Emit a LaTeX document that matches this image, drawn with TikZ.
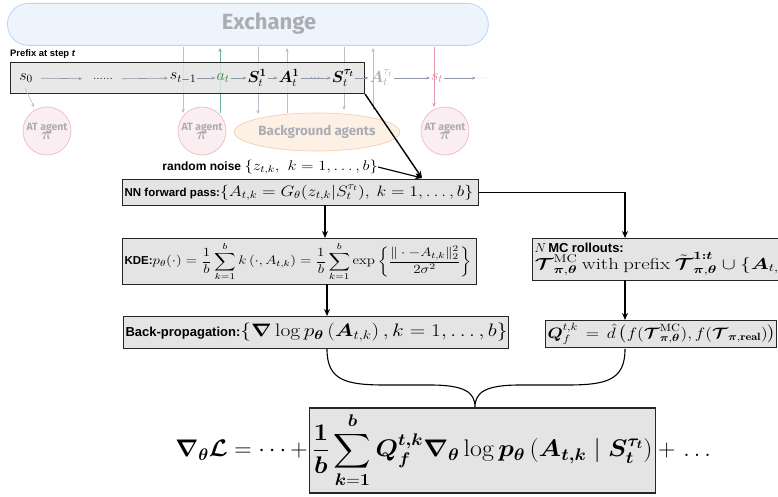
\RequirePackage{fix-cm}
\documentclass[tikz,border=0pt]{standalone}
\usepackage{amsmath,amssymb,bm,graphicx}
\usepackage{fontspec}
\setsansfont{Liberation Sans}
\newfontfamily\dinfont{Fira Sans}
\usetikzlibrary{arrows.meta,calc,shapes.geometric}
\definecolor{exfill}{HTML}{EDF4FC}
\definecolor{exline}{HTML}{BCD6F0}
\definecolor{extext}{HTML}{ABADB3}
\definecolor{vline}{HTML}{B9C0CA}
\definecolor{harrow}{HTML}{8E98A6}
\definecolor{agfill}{HTML}{FBEEF1}
\definecolor{agline}{HTML}{F0BAC5}
\definecolor{bgfill}{HTML}{FDF0E5}
\definecolor{bgline}{HTML}{F6CFAE}
\definecolor{greentx}{HTML}{2E8B3A}
\definecolor{greenln}{HTML}{6DB39A}
\definecolor{pinktx}{HTML}{D98796}
\definecolor{pinkln}{HTML}{E49AA7}
\definecolor{boxfill}{HTML}{E4E4E4}
\definecolor{graytx}{HTML}{B2B2B2}
\begin{document}
\begin{tikzpicture}[x=1pt,y=-1pt,
  fbox/.style={draw=black!85, line width=1.1pt, fill=boxfill, inner sep=2pt, anchor=north west, align=left},
  pm/.style={inner sep=1pt, font=\fontsize{16}{18}\selectfont},
  harr/.style={draw=harrow, line width=0.6pt, -{Stealth[length=3.5pt,width=3pt]}},
  vdown/.style={draw=vline, line width=0.8pt, -{Stealth[length=4pt,width=3.5pt]}},
  agent/.style={circle, draw=agline, fill=agfill, line width=0.7pt, minimum size=48pt, inner sep=0pt, align=center, text=extext},
  mainarr/.style={draw=black, line width=1.4pt, -{Stealth[length=7pt,width=6pt]}},
]
\useasboundingbox (0,0) rectangle (778,497);

% Exchange
\node[draw=exline, fill=exfill, rounded corners=21pt, minimum width=481pt, minimum height=42pt, anchor=north west, line width=0.8pt, inner sep=0pt] (ex) at (7,3) {};
\node[font=\dinfont\bfseries\fontsize{22}{24}\selectfont, text=extext] (extx) at (269,24) {Exchange};

% agents
\node[agent] (ag1) at (47,131) {{\dinfont\bfseries\fontsize{10.5}{11}\selectfont AT agent}\\[-3pt]{\fontsize{16}{16}\selectfont$\bm{\pi}$}};
\node[agent] (ag2) at (202,131) {{\dinfont\bfseries\fontsize{10.5}{11}\selectfont AT agent}\\[-3pt]{\fontsize{16}{16}\selectfont$\bm{\pi}$}};
\node[agent] (ag3) at (445,131) {{\dinfont\bfseries\fontsize{10.5}{11}\selectfont AT agent}\\[-3pt]{\fontsize{16}{16}\selectfont$\bm{\pi}$}};
\node[ellipse, draw=bgline, fill=bgfill, line width=0.7pt, minimum width=136pt, minimum height=38pt, inner sep=0pt, text=extext, font=\dinfont\bfseries\fontsize{13.4}{15}\selectfont] (bg) at (317,132) {Background agents};

% vertical exchange lines
\coordinate (v1a) at (183,47); \coordinate (v1b) at (183,113);
\coordinate (v2a) at (220,113); \coordinate (v2b) at (220,48);
\coordinate (v3a) at (258,47); \coordinate (v3b) at (258,114);
\coordinate (v4a) at (287,113); \coordinate (v4b) at (287,48);
\coordinate (v5a) at (344,47); \coordinate (v5b) at (344,110);
\coordinate (v6a) at (373,110); \coordinate (v6b) at (373,48);
\coordinate (v7a) at (434,47); \coordinate (v7b) at (434,107);
\draw[vdown] (v1a) -- (v1b);
\draw[vdown, draw=greenln] (v2a) -- (v2b);
\draw[vdown] (v3a) -- (v3b);
\draw[vdown] (v4a) -- (v4b);
\draw[vdown] (v5a) -- (v5b);
\draw[vdown] (v6a) -- (v6b);
\draw[vdown, draw=pinkln] (v7a) -- (v7b);

% prefix
\node[anchor=west, inner sep=0pt, font=\sffamily\bfseries\fontsize{9.4}{11}\selectfont] (plab) at (10,54) {Prefix at step \textit{t}};
\node[fbox, fill opacity=0.85, minimum width=354pt, minimum height=31pt] (pbox) at (10,62) {};

\node[pm] (s0) at (26,78) {$s_0$};
\node[pm, font=\fontsize{12}{14}\selectfont] (d1) at (103,79) {......};
\node[pm] (stm) at (183,78) {$s_{t-1}$};
\node[pm, text=greentx] (at) at (223,78) {$a_t$};
\node[pm] (S1) at (257,78) {$\bm{S}_t^{\bm{1}}$};
\node[pm] (A1) at (289,78) {$\bm{A}_t^{\bm{1}}$};
\node[pm] (St) at (343,78) {$\bm{S}_t^{\bm{\tau_t}}$};
\node[pm, text=graytx] (At) at (381,78) {$\bm{A}_t^{\tau_t}$};
\node[pm, text=pinktx] (st) at (437,78) {$s_t$};
\node[pm, text=graytx, font=\fontsize{9}{10}\selectfont] (d2) at (483,78) {$\cdots$};

\draw[harr, shorten <=7pt, shorten >=10pt] (s0) -- (d1);
\draw[harr, shorten <=8pt, shorten >=1pt] (d1) -- (stm);
\draw[harr] (stm) -- (at);
\draw[harr] (at) -- (S1);
\draw[harr] (S1) -- (A1);
\draw[harr] (A1) -- node[inner sep=0pt, font=\fontsize{7}{8}\selectfont, text=black]{$\cdots$} (St);
\draw[harr] (St) -- (At);
\draw[harr] (At) -- (st);
\draw[harr] (st) -- (d2);
\coordinate (s0a) at (25,88); \coordinate (s0b) at (34,107);
\draw[harr, draw=vline] (s0a) -- (s0b);

% random noise and NN
\node[fbox, text width=352pt, minimum height=26pt] (nn) at (122,179) {{\sffamily\bfseries\fontsize{11.5}{13}\selectfont NN forward pass:}\scalebox{1.18}[1]{\fontsize{15}{17}\selectfont$\left\{A_{t,k}=G_\theta(z_{t,k}|S_t^{\tau_t}),\ k=1,\dots,b\right\}$}};
\node[anchor=east, inner sep=0pt] (noise) at (378,167) {{\sffamily\bfseries\fontsize{12}{14}\selectfont random noise }\scalebox{1.18}[1]{\fontsize{14}{16}\selectfont$\{z_{t,k},\ k=1,\dots,b\}$}};
\coordinate (nnin) at (422,178);
\draw[mainarr] (pbox.south east) -- (nnin);
\draw[mainarr, line width=1.2pt] (noise.east) -- (nnin);

% KDE
\node[fbox, text width=350pt, minimum height=46pt] (kde) at (122,238) {{\sffamily\bfseries\fontsize{11.5}{13}\selectfont KDE:}\scalebox{1.2}[1]{\fontsize{12.5}{14}\selectfont$\displaystyle p_\theta(\cdot)=\frac{1}{b}\sum_{k=1}^{b}k\left(\cdot,A_{t,k}\right)=\frac{1}{b}\sum_{k=1}^{b}\exp\left\{\frac{\|\cdot-A_{t,k}\|_2^2}{2\sigma^2}\right\}$}};

% Back-prop
\node[fbox, text width=381pt, minimum height=32pt] (bp) at (123,316) {{\sffamily\bfseries\fontsize{13}{15}\selectfont Back-propagation:}\scalebox{1.19}[1]{\fontsize{18}{20}\selectfont$\{\bm{\nabla}\log p_{\bm\theta}\left(\bm{A}_{t,k}\right),k=1,\dots,b\}$}};

% MC rollouts
\node[fbox, text width=254pt, minimum height=42pt, inner sep=2pt] (mc) at (532,238) {\fontsize{13}{15}\selectfont$N$\,{\sffamily\bfseries MC rollouts:}\\[-2pt]\scalebox{1.3}[1]{\fontsize{16}{18}\selectfont$\bm{\mathcal{T}}^{\mathrm{MC}}_{\bm\pi,\bm\theta}$ with prefix $\tilde{\bm{\mathcal{T}}}^{\bm{1:t}}_{\bm\pi,\bm\theta}\cup\{\bm{A}_{t,k}\}$}};

% Q
\node[fbox, text width=227pt, minimum height=27pt] (q) at (545,320) {\scalebox{1.17}[1]{\fontsize{15}{17}\selectfont$\bm{Q}_f^{t,k}\,=\,\hat{d}\left(f(\bm{\mathcal{T}}^{\mathrm{MC}}_{\bm\pi,\bm\theta}),f(\bm{\mathcal{T}}_{\bm\pi,\mathbf{real}})\right)$}};

% connectors
\coordinate (nnk) at (325,205); \coordinate (kdein) at (325,238);
\draw[mainarr] (nnk) -- (kdein);
\coordinate (kdeo) at (327,284); \coordinate (bpin) at (327,316);
\draw[mainarr] (kdeo) -- (bpin);
\coordinate (mcin) at (625,238);
\draw[mainarr] (nn.east) -| (mcin);
\coordinate (mco) at (625,280); \coordinate (qin) at (625,320);
\draw[mainarr] (mco) -- (qin);

% big formula
\node[draw=black!85, line width=1.1pt, fill=boxfill, inner sep=3pt, minimum height=85pt, anchor=east, font=\fontsize{24}{28}\selectfont] (big) at (656,450.5) {\scalebox{1.08}[1]{$\displaystyle\frac{\bm{1}}{\bm{b}}\sum_{\bm{k}=\bm{1}}^{\bm{b}}\bm{Q}_{\bm f}^{\bm{t,k}}\bm{\nabla}_{\bm\theta}\log \bm{p}_{\bm\theta}\left(\bm{A}_{\bm{t,k}}\mid \bm{S}_{\bm t}^{\bm{\tau_t}}\right)$}};
\node[anchor=east, inner sep=1pt, font=\fontsize{24}{28}\selectfont] (lhs) at (big.west) {$\bm{\nabla}_{\bm\theta}\bm{\mathcal{L}}=\cdots+$};
\node[anchor=west, inner sep=2pt, font=\fontsize{24}{28}\selectfont] (rhs) at (big.east) {$+\,\ldots$};

% brace
\coordinate (bl) at (327,349); \coordinate (br) at (625,349); \coordinate (btip) at (475,407);
\draw[line width=1.1pt] (bl) .. controls (327,380) and (345,385) .. (385,385) -- (430,385) .. controls (464,385) and (475,392) .. (btip)
  .. controls (475,392) and (486,385) .. (520,385) -- (567,385) .. controls (607,385) and (625,380) .. (br);
\end{tikzpicture}
\end{document}
